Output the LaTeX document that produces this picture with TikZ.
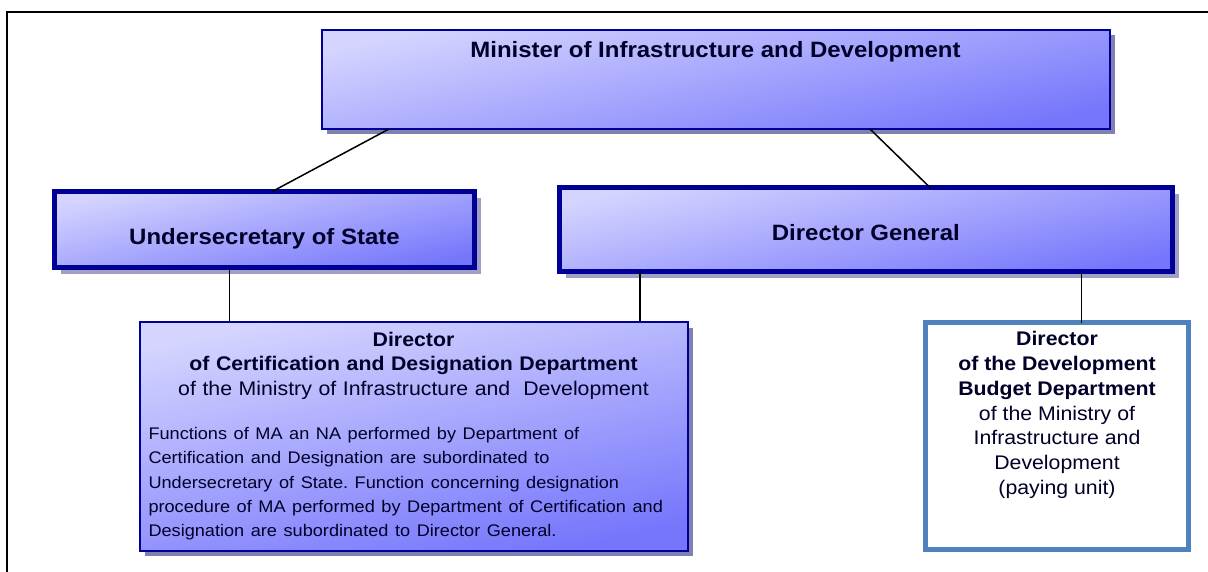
\documentclass[tikz,border=0pt]{standalone}
\usepackage{fontspec}
\setmainfont{Liberation Sans}[FakeStretch=1.08]
\frenchspacing
\usetikzlibrary{shadows}
\definecolor{orgnavy}{RGB}{0,0,150}
\definecolor{orglight}{RGB}{212,212,255}
\definecolor{orgdeep}{RGB}{118,118,252}
\definecolor{orgshade}{RGB}{128,128,178}
\definecolor{orgpale}{RGB}{160,160,198}
\definecolor{orgsteel}{RGB}{79,129,189}
\definecolor{orgink}{RGB}{0,0,40}

\begin{document}
\begin{tikzpicture}[x=1pt, y=-1pt,
	orgbox/.style={draw=orgnavy, top color=orglight, bottom color=orgdeep, shading angle=12,
		inner sep=0pt, outer sep=0pt, anchor=north west, text=orgink},
	thinbox/.style={orgbox, line width=2pt,
		drop shadow={shadow xshift=5.5pt, shadow yshift=-5.5pt, fill=orgshade, opacity=1}},
	thickbox/.style={orgbox, line width=5pt,
		drop shadow={shadow xshift=6.5pt, shadow yshift=-6.5pt, fill=orgpale, opacity=1}},
	title/.style={font=\fontsize{22.2}{26}\selectfont\bfseries},
	link/.style={line width=1.5pt}]

\useasboundingbox (0,0) rectangle (1208,572);
\draw[line width=2pt] (1208,12) -- (7,12) -- (7,572);

\node[thinbox, title, minimum width=788pt, text height=27.3pt, text depth=71.7pt] (min) at (321.5,30)
	{Minister of Infrastructure and Development};
\node[thickbox, title, minimum width=420.6pt, text height=53.2pt, text depth=22.5pt] (und) at (54.2,191.8)
	{Undersecretary of State};
\node[thickbox, title, minimum width=613.3pt, text height=53.2pt, text depth=30.8pt] (dg) at (559.2,187.5)
	{Director General};

\node[thinbox, minimum width=548pt, minimum height=228.5pt, text width=530pt, align=center,
	font=\fontsize{19.7}{24.3}\selectfont] (cert) at (139.5,322) {
	\textbf{Director}\\
	\textbf{of Certification and Designation Department}\\
	of the Ministry of Infrastructure and\ \ Development\\[20pt]
	\parbox[t]{530pt}{\raggedright\fontsize{16.8}{24.3}\selectfont
	Functions of MA an NA performed by Department of\\
	Certification and Designation are subordinated to\\
	Undersecretary of State. Function concerning designation\\
	procedure of MA performed by Department of Certification and\\
	Designation are subordinated to Director General.}};

\node[draw=orgsteel, line width=5pt, fill=white, inner sep=0pt, outer sep=0pt, anchor=north west,
	text=orgink] (budget) at (925.8,322.5) {
	\parbox[c][226.7pt][t]{262.4pt}{\centering\fontsize{19.7}{24.8}\selectfont\vspace*{9pt}
	\textbf{Director}\\
	\textbf{of the Development}\\
	\textbf{Budget Department}\\
	of the Ministry of\\
	Infrastructure and\\
	Development\\
	(paying unit)}};

\draw[link] ([xshift=67.5pt]min.south west) -- ([xshift=217.5pt]und.north west);
\draw[link] ([xshift=548.5pt]min.south west) -- ([xshift=370.8pt]dg.north west);
\foreach \src/\dx/\dst in {und/175.1/cert, dg/80.8/cert, dg/522.5/budget}{
	\path ([xshift=\dx pt]\src.south west) coordinate (top);
	\draw[link] (top) -- (top |- \dst.north);
}
\end{tikzpicture}
\end{document}
